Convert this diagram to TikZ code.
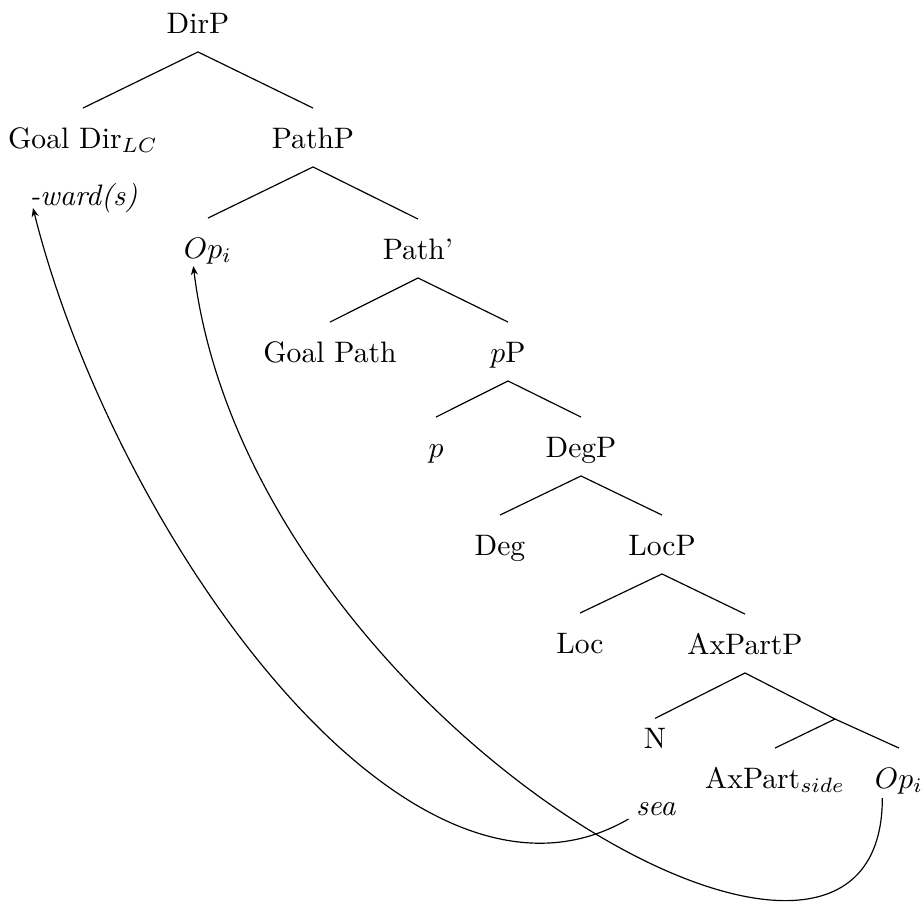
\documentclass[tikz,border=0pt]{standalone}
\usetikzlibrary{arrows.meta}
\begin{document}
\begin{tikzpicture}[x=0.3378pt,y=-0.3378pt,
  lbl/.style={anchor=base, inner sep=0pt, text height=13.3pt, text depth=6.2pt},
  branch/.style={line width=0.4pt},
  move/.style={-{Stealth[length=3pt,width=2.4pt]}, line width=0.4pt}]
\useasboundingbox (0,0) rectangle (924,902);

% tree labels
\node[lbl] (dirp)     at (198,33)  {DirP};
\node[lbl] (goaldir)  at (83,148)  {Goal Dir$_{LC}$};
\node[lbl] (pathp)    at (313,148) {PathP};
\node[lbl] (ward)     at (83.5,205) {\textit{-ward(s)}};
\node[lbl] (opi)      at (208,258) {$Op_i$};
\node[lbl] (pathbar)  at (418,259) {Path'};
\node[lbl] (goalpath) at (330,362) {Goal Path};
\node[lbl] (pp)       at (508,362) {$p$P};
\node[lbl] (p)        at (436,457) {$p$};
\node[lbl] (degp)     at (581,457) {DegP};
\node[lbl] (deg)      at (500,555) {Deg};
\node[lbl] (locp)     at (662,555) {LocP};
\node[lbl] (loc)      at (580,653) {Loc};
\node[lbl] (axpartp)  at (745,654) {AxPartP};
\node[lbl, text height=9.8pt] (n) at (655,748) {N};
\coordinate (axbar) at (835,719);
\node[lbl] (axpart)   at (775,788) {AxPart$_{side}$};
\node[lbl] (opj)      at (899,788) {$Op_i$};
\node[lbl] (sea)      at (656,815) {\textit{sea}};

% branches
\draw[branch] (dirp.south) -- (goaldir.north);
\draw[branch] (dirp.south) -- (pathp.north);
\draw[branch] (pathp.south) -- (opi.north);
\draw[branch] (pathp.south) -- (pathbar.north);
\draw[branch] (pathbar.south) -- (goalpath.north);
\draw[branch] (pathbar.south) -- (pp.north);
\draw[branch] (pp.south) -- (p.north);
\draw[branch] (pp.south) -- (degp.north);
\draw[branch] (degp.south) -- (deg.north);
\draw[branch] (degp.south) -- (locp.north);
\draw[branch] (locp.south) -- (loc.north);
\draw[branch] (locp.south) -- (axpartp.north);
\draw[branch] (axpartp.south) -- (n.north);
\draw[branch] (axpartp.south) -- (axbar);
\draw[branch] (axbar) -- (axpart.north);
\draw[branch] (axbar) -- (opj.north);

% movement arrows
\draw[move] ([shift={(-7,4)}]sea.base west) .. controls +(-224,130) and +(80,320) .. ([shift={(4,3)}]ward.base west);
\draw[move] ([shift={(8,10)}]opj.base west) .. controls +(0,290) and +(55,450) .. ([shift={(10,8)}]opi.base west);
\end{tikzpicture}
\end{document}
